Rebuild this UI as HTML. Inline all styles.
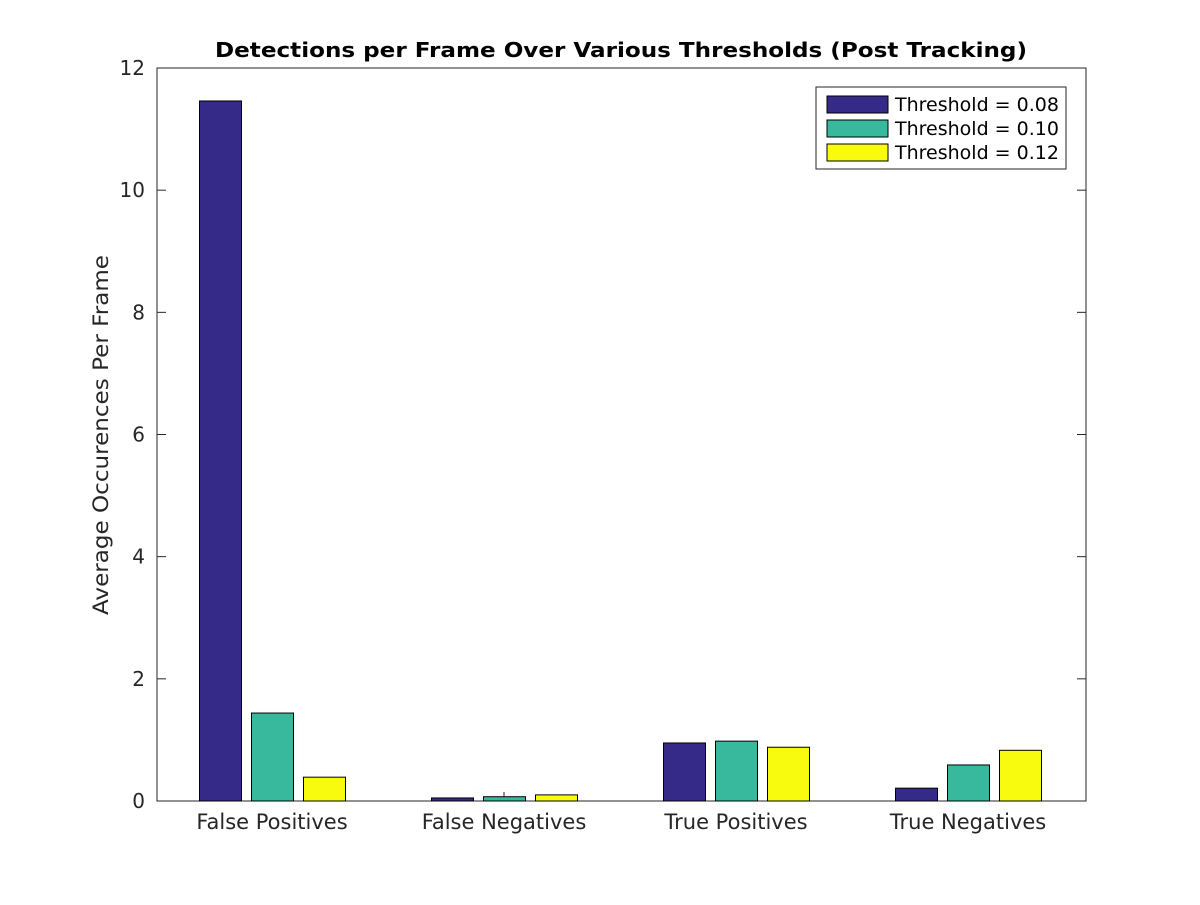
<!DOCTYPE html>
<html><head><meta charset="utf-8"><style>body{margin:0;background:#fff}svg text{font-family:"DejaVu Sans","Liberation Sans",sans-serif}</style></head>
<body>
<svg id="chart" width="1200" height="900" xmlns="http://www.w3.org/2000/svg">
<rect width="1200" height="900" fill="#fff"/>
<text x="621" y="57" text-anchor="middle" font-size="20" font-weight="bold" fill="#000" textLength="812" lengthAdjust="spacingAndGlyphs">Detections per Frame Over Various Thresholds (Post Tracking)</text>
<text transform="translate(108,435) rotate(-90)" text-anchor="middle" font-size="21" fill="#262626" textLength="360" lengthAdjust="spacingAndGlyphs">Average Occurences Per Frame</text>
<g id="axes"></g>
<g id="bars"></g>
<g>
<rect x="816" y="87" width="250" height="82" fill="#fff" stroke="#262626" stroke-width="1"/>
<g id="legend-items"></g>
</g>
</svg>
<script>
const categories=["False Positives","False Negatives","True Positives","True Negatives"];
const seriesNames=["Threshold = 0.08","Threshold = 0.10","Threshold = 0.12"];
const s008=[11.46,0.05,0.95,0.21];
const s010=[1.44,0.07,0.98,0.59];
const s012=[0.39,0.10,0.88,0.83];
const yTicks=[0,2,4,6,8,10,12];
const colors=["#352a87","#38b99e","#f9fb0e"];
const series=[s008,s010,s012];
const L=157,R=1086,T=68,B=801,yMax=12;
const y=v=>B-v/yMax*(B-T);
const gc=i=>272+i*232;
const NS="http://www.w3.org/2000/svg";
function mk(t,a,p){const e=document.createElementNS(NS,t);for(const k in a)e.setAttribute(k,a[k]);p.appendChild(e);return e;}
const bars=document.getElementById('bars'),axes=document.getElementById('axes');
const frame=mk('rect',{x:L,y:T,width:R-L,height:B-T,fill:"none",stroke:"#262626","stroke-width":1},axes);


yTicks.forEach(t=>{
 mk('line',{x1:L,x2:L+9,y1:y(t),y2:y(t),stroke:"#262626"},axes);
 mk('line',{x1:R,x2:R-9,y1:y(t),y2:y(t),stroke:"#262626"},axes);
 const tx=mk('text',{x:L-12,y:y(t)+7,"text-anchor":"end","font-size":20,fill:"#262626"},axes);
 tx.textContent=t;
 
 
});
categories.forEach((c,i)=>{
 mk('line',{x1:gc(i),x2:gc(i),y1:B,y2:B-9,stroke:"#262626"},axes);
 const tx=mk('text',{x:gc(i),y:829,"text-anchor":"middle","font-size":21,fill:"#262626"},axes);
 tx.textContent=c;
 
 
});
series.forEach((s,j)=>s.forEach((v,i)=>{
 const r=mk('rect',{x:gc(i)+(j-1)*52-20.5,y:y(v),width:42,height:B-y(v),fill:colors[j],stroke:"#000","stroke-width":1},bars);
 
 
}));
const li=document.getElementById('legend-items');
seriesNames.forEach((n,j)=>{
 const g=mk('g',{},li);
 
 
 mk('rect',{x:827,y:96+j*24,width:61,height:17,fill:colors[j],stroke:"#000"},g);
 const t=mk('text',{x:895,y:111+j*24,"font-size":19,fill:"#000"},g);
 t.textContent=n;
});
</script>
</body></html>
